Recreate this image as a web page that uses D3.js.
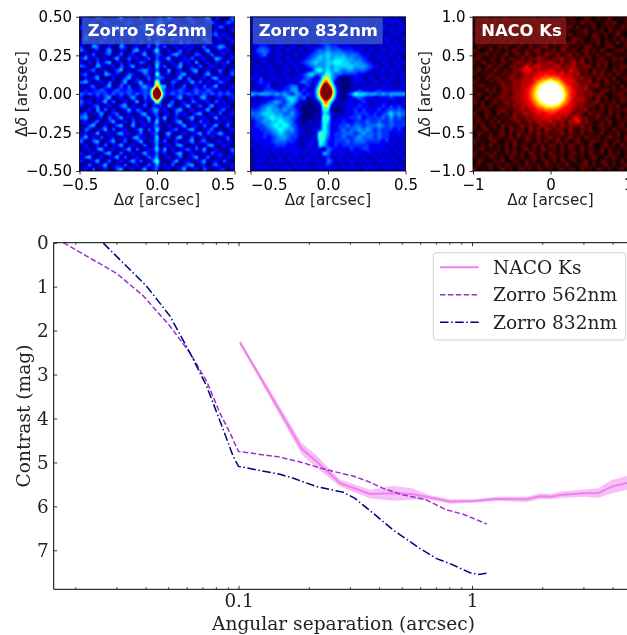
<!DOCTYPE html>
<html><head><meta charset="utf-8">
<script src="https://cdn.jsdelivr.net/npm/d3@7"></script>
<style>
html,body{margin:0;padding:0;background:#fff;overflow:hidden}
#wrap{position:relative;width:627px;height:635px;overflow:hidden}
canvas{position:absolute}
svg{position:absolute;left:0;top:0}
</style></head><body><div id="wrap"></div>
<script>
// ---------- curves ----------
const nacoSep = [0.1015,0.1865,0.2162,0.272,0.366,0.46,0.552,0.661,0.805,1.013,1.276,1.714,1.955,2.19,2.38,3.0,3.47,3.97,4.61];
const nacoMag = [2.27,4.69,4.98,5.47,5.72,5.70,5.72,5.80,5.89,5.88,5.83,5.84,5.77,5.78,5.74,5.70,5.70,5.55,5.47];
const nacoErr = [0.05,0.13,0.14,0.08,0.10,0.17,0.13,0.05,0.05,0.04,0.05,0.06,0.06,0.06,0.07,0.08,0.11,0.15,0.16];
const z562Sep = [0.0178,0.0301,0.0391,0.0509,0.062,0.0731,0.0833,0.092,0.1,0.1506,0.1865,0.2387,0.31,0.354,0.417,0.508,0.629,0.779,0.918,1.156];
const z562Mag = [0,0.70,1.21,1.90,2.51,3.16,3.88,4.33,4.75,4.88,5.0,5.17,5.31,5.42,5.59,5.74,5.84,6.08,6.18,6.40];
const z832Sep = [0.02636,0.0404,0.0509,0.062,0.0731,0.0861,0.095,0.1,0.1506,0.1717,0.2162,0.281,0.3155,0.378,0.46,0.599,0.706,0.819,0.98,1.064,1.163];
const z832Mag = [0.01,0.99,1.67,2.51,3.27,4.26,4.87,5.09,5.27,5.36,5.55,5.68,5.82,6.16,6.54,6.96,7.19,7.32,7.51,7.55,7.52];
const legendLabels = ["NACO Ks","Zorro 562nm","Zorro 832nm"];
const mainXTicks = [0.1,1];
const mainXMinor = [0.02,0.03,0.04,0.05,0.06,0.07,0.08,0.09,0.2,0.3,0.4,0.5,0.6,0.7,0.8,0.9,2,3,4];
const mainYTicks = [0,1,2,3,4,5,6,7];

// ---------- images: coarse brightness grids ----------
const grid562 = [
"120132101240210312023142101320124021013","012301321012310120134201210132012310132","201210123402101321012031024201321013201",
"120210130241202130121310120240210120102","031320121023101202031201032101301231210","142101302120130214022103120210142012021",
"120213012031021302142012041302013201102","201430120142012013031301202120130124310","310120241021034120251020130201024012120",
"021301230130120240132013421013201301201","240120102401312013031240102130120143012","102031340120201320142012031204012021130",
"320142012031240102051301240120301210201","012301201340102342131040120134012013102","230120431201320132062120134012024102013",
"021240102013412013133201240310120341120","341012031024012402071013201241302013210","102301240131301342033402013012031240102",
"121223212322321232331212232123223212121","323232323232323232333223232323232323232","201021340120241031211101240120341012012",
"312012403012014021041013012032012031201","201230120134020130212042012401302401120","012041302012413201341201340120124012301",
"230124012301201340230120312013401203012","341012031240120124031401201240120140210","120230124012031203150201340120312012021",
"013401201340140120231020124012031240130","032012403012012403151012301341012301012","120140120341201301230241012012403124201",
"241203012012034120150120340130120201130","301340124013012401241301201240231012021","120120301240120130140120341012013401210",
"012034012012403012251402012303140120013","201201340130120241131201340120120312102","134012012403012013240120130124013012021",
"201240130120241301361012401201240120310","013012401203012013141203012340120231012","120301201340120240230120124012031012201"];
const grid832 = [
"111211121112112111211212112112121121211","121112111211121121112112121121112112121","112121211121112121112121112112121211112",
"211112111211211112121112112121112112121","112121121112111212211211211211212111211","121112112121121111322112121112112121112",
"112211211112112112332211211211211121211","123321121121112122343322221121112112121","134431211211211234454443332211211211212",
"123421121112112345565555444322112112111","112211211211123456565666554432112121121","111211121121234565566776655543211211212",
"121121112112123455565666665554321121121","112112111212112367565654554443211212111","121121112111235644475443333221112111212",
"213112211212234312664300012211211212112","123221121121343212542000012121121121112","112231112344123111321000011121211212112",
"221333223355231111110000012322123222222","545554545435423111110000247665554545555","211222334665341111110000123432212223222",
"112234543564210000320011221232121221212","223455434542100000540011222322122323232","334565545443100001650001223232223234343",
"445666554453200011652111223333232346454","344567665543100011872122233423333435343","234556676542101112762223223334334334333",
"233456767643111112752233434434445434333","223345676553211123752234344545434333232","222334565443211128752334443454434332222",
"222323455433111228742334334544434332121","122223444332112217632333434443333231212","212222333222112216532323333333222212121",
"121212222222212122143222232233222221212","112121212122121221542122122212212121121","121211121212112121232121212121121212112",
"112112121121212112143121121212112121211","121211212112121121232112121121211212121","112121121211212112121211212112121121112"];
const gridNaco = [
"312402134120321402312041320142031240213","103214023412031240123402130413201324102","241031420213402130421302413021402132043",
"320413102340213041320413012340213041321","132041324120341023140231402130421302410","401230412032140312041320143201340213042",
"213402130421402132304102341302140321403","042130324013204123402134012043120342013","310241302142031340213042130241304102341",
"132403124023142031421302413042130342102","241032140321403243102341320413024103241","304213042134213042342130241402132403120",
"120341320342130453213402130243041302143","241304213043423142342130432130413204231","302142132341232343423241324021324130412",
"130423412432342434343423432413042314023","412031342343432454343432342134130421302","234102143243434565454343423241340213041",
"301423034243445656565443432342102413024","142031243234345667665434342314234102341","320412342343445656565443423432041302143",
"413024134234344555554434323421340213042","204130213243434454443433432313204132401","132401342123423343434323421340213041324",
"401320413042342342343234213204132041302","230413021342132423432413042130241320413","142031402134023142342130413042103240132",
"304123041302413024213041320413024130241","213402130421304130421320410324013204123","042130241304213041302140321403214031402",
"130241320413042130241302413042130241304","412034103240132041302413024103421302413","203140213041320413042130421304102413042",
"134021304130241304213041320413204130213","401324103241304213042130241304213041302","213042130421302413024130421302410324103",
"042103240132041302413042130241304213041","130241304213042130421304102341302413024","402130241302413042130241320413042130241"];
// additive gaussian features: x, y, sigmaX, sigmaY, amplitude
const blobs562 = [[0,0,0.019,0.027,1.7],[0,0.055,0.012,0.018,0.28]];
const blobs832 = [[-0.011,0.011,0.032,0.04,1.7],[-0.011,0.09,0.016,0.03,0.2],[-0.011,-0.07,0.016,0.02,0.25]];
const blobsNaco = [[0,0,0.105,0.095,1.0],[-0.005,0.07,0.06,0.06,0.45],[0.05,-0.04,0.08,0.06,0.3],[0,0,0.15,0.15,0.2],[0,0,0.24,0.24,0.3],[0,0,0.5,0.5,0.05],[-0.30,0.33,0.05,0.05,0.2],[0.345,-0.35,0.04,0.04,0.22],[0.30,0.35,0.07,0.07,0.07]];

const panelTitles = ["Zorro 562nm","Zorro 832nm","NACO Ks"];
const smallTicksA = [-0.5,0,0.5];
const smallTicksY = [-0.5,-0.25,0,0.25,0.5];
const naxTicks = [-1,0,1];
const naxYTicks = [-1,-0.5,0,0.5,1];

const jet = d3.scaleLinear().domain([0,0.11,0.34,0.5,0.65,0.89,1])
  .range(["#00007f","#0000ff","#00ffff","#7fff7f","#ffff00","#ff0000","#7f0000"]).clamp(true);
const hot = d3.scaleLinear().domain([0,0.365,0.746,1])
  .range(["#0a0000","#ff0000","#ffff00","#ffffff"]).clamp(true);

const wrap = d3.select("#wrap");
const svg = wrap.append("svg").attr("width",627).attr("height",635);
const SANS = "'DejaVu Sans'", SERIF = "'DejaVu Serif'";

function paint(x,y,w,h,dom,grid,blobs,gain,cmap){
  const cv = wrap.insert("canvas","svg").attr("width",w).attr("height",h)
    .style("left",x+"px").style("top",y+"px").node();
  const ctx = cv.getContext("2d"), im = ctx.createImageData(w,h);
  const n = grid.length;
  const px2x = d3.scaleLinear().domain([0,w]).range(dom);
  const px2y = d3.scaleLinear().domain([0,h]).range([dom[1],dom[0]]);
  const val=(r,c)=>{const s=grid[Math.max(0,Math.min(n-1,r))];return (+s[Math.max(0,Math.min(s.length-1,c))]||0)*gain;};
  const cub=(p0,p1,p2,p3,t)=>p1+.5*t*(p2-p0+t*(2*p0-5*p1+4*p2-p3+t*(3*(p1-p2)+p3-p0)));
  for(let j=0;j<h;j++)for(let i=0;i<w;i++){
    const u=(i+.5)/w*n-.5,v=(j+.5)/h*n-.5,c0=Math.floor(u),r0=Math.floor(v),a=u-c0,b=v-r0;
    const row=r=>cub(val(r,c0-1),val(r,c0),val(r,c0+1),val(r,c0+2),a);
    let t=Math.max(0,cub(row(r0-1),row(r0),row(r0+1),row(r0+2),b));
    const X=px2x(i+.5),Y=px2y(j+.5);
    for(const [bx,by,sx,sy,amp] of blobs) t+=amp*Math.exp(-.5*((X-bx)**2/sx**2+(Y-by)**2/sy**2));
    const col=d3.rgb(cmap(t)),k=(j*w+i)*4;
    im.data[k]=col.r;im.data[k+1]=col.g;im.data[k+2]=col.b;im.data[k+3]=255;
  }
  ctx.putImageData(im,0,0);
}

function smallAxes(x0,x1,y0,y1,xDom,yDom,xt,yt,xf,yf,title,boxW,boxColor,showY,yLabelX,anchorFix){
  const g = svg.append("g");
  const xs = d3.scaleLinear().domain(xDom).range([x0,x1]);
  const ys = d3.scaleLinear().domain(yDom).range([y1,y0]);
  const xa = g.append("g").attr("transform",`translate(0,${y1})`).call(d3.axisBottom(xs).tickValues(xt).tickSize(3.5).tickPadding(5).tickFormat(xf));
  const ya = g.append("g").attr("transform",`translate(${x0},0)`).call(d3.axisLeft(ys).tickValues(yt).tickSize(3.5).tickPadding(4).tickFormat(showY?yf:""));
  [xa,ya].forEach(a=>{a.selectAll(".domain").remove();a.selectAll("line").attr("stroke","#000").attr("stroke-width",.8);
    a.selectAll("text").attr("fill","#000").style("font-family",SANS).style("font-size","15px");});
  if(anchorFix) xa.selectAll("text").filter(d=>d===anchorFix.v).attr("text-anchor",anchorFix.a);
  g.append("rect").attr("x",x0).attr("y",y0).attr("width",x1-x0).attr("height",y1-y0).attr("fill","none").attr("stroke","#000").attr("stroke-width",.9);
  g.append("rect").attr("x",x0+2.3).attr("y",y0+.8).attr("width",boxW).attr("height",26.6).attr("fill",boxColor).attr("fill-opacity",.72);
  g.append("text").attr("x",x0+8.2).attr("y",y0+19).attr("fill","#fff").style("font-family",SANS).style("font-weight","bold").style("font-size","16.4px").text(title);
  g.append("text").attr("x",(x0+x1)/2).attr("y",y1+34).attr("text-anchor","middle").attr("fill","#222").style("font-family",SANS).style("font-size","15.2px")
    .html('Δ<tspan font-style="italic">α</tspan> [arcsec]');
  if(showY) g.append("text").attr("transform",`translate(${yLabelX},${(y0+y1)/2}) rotate(-90)`).attr("text-anchor","middle").attr("fill","#222").style("font-family",SANS).style("font-size","15.2px")
    .html('Δ<tspan font-style="italic">δ</tspan> [arcsec]');
}
const minus = s=>s.replace("-","\u2212");
const f2 = d=>minus(d3.format(".2f")(d)), f1=d=>minus(d3.format(".1f")(d)), f0=d=>minus(d3.format("d")(d));

paint(80,17,154,154,[-0.5,0.5],grid562,blobs562,0.062,jet);
paint(251,17,154,154,[-0.5,0.5],grid832,blobs832,0.05,jet);
paint(473,17,155,154,[-1,1],gridNaco,blobsNaco,0.032,hot);
smallAxes(79.5,234.5,16.8,171,[-0.5,0.5],[-0.5,0.5],smallTicksA,smallTicksY,f1,f2,panelTitles[0],130,"#3f62c8",true,26.5,{v:0.5,a:"end"});
smallAxes(250.5,405.5,16.8,171,[-0.5,0.5],[-0.5,0.5],smallTicksA,smallTicksY,f1,f2,panelTitles[1],130,"#3f62c8",false,0,{v:-0.5,a:"start"});
smallAxes(473,628,16.8,171,[-1,1],[-1,1],naxTicks,naxYTicks,f0,f1,panelTitles[2],91,"#8e1c1c",true,430,null);

// ---------- main plot ----------
const mLeft=53.7, mRight=640, mTop=242.7, mBottom=589.3;
const x = d3.scaleLog().domain([0.1,1]).range([238.5,472]);
const y = d3.scaleLinear().domain([0,7]).range([mTop,550.3]);
const m = svg.append("g");
const clipId="cl"; svg.append("clipPath").attr("id",clipId).append("rect").attr("x",mLeft).attr("y",mTop).attr("width",mRight-mLeft).attr("height",mBottom-mTop);
const plot = m.append("g").attr("clip-path",`url(#${clipId})`);
const pts=(a,b)=>a.map((d,i)=>[d,b[i]]);
const lineGen=d3.line().x(d=>x(d[0])).y(d=>y(d[1]));
plot.append("path").datum(nacoSep.map((d,i)=>({s:d,m:nacoMag[i],e:nacoErr[i]})))
  .attr("d",d3.area().x(d=>x(d.s)).y0(d=>y(d.m-d.e)).y1(d=>y(d.m+d.e))).attr("fill","#ee82ee").attr("fill-opacity",.5);
plot.append("path").datum(pts(nacoSep,nacoMag)).attr("d",lineGen).attr("fill","none").attr("stroke","#ee82ee").attr("stroke-width",2);
plot.append("path").datum(pts(z562Sep,z562Mag)).attr("d",lineGen).attr("fill","none").attr("stroke","#9932cc").attr("stroke-width",1.5).attr("stroke-dasharray","5.5,2.4");
plot.append("path").datum(pts(z832Sep,z832Mag)).attr("d",lineGen).attr("fill","none").attr("stroke","#000080").attr("stroke-width",1.5).attr("stroke-dasharray","8.5,2.6,1.5,2.6");

function xTicks(yPos,size,labels,vals,orient){
  const a=(orient==="b"?d3.axisBottom:d3.axisTop)(x).tickValues(vals).tickSize(-size).tickPadding(5).tickFormat(labels?(d=>d3.format("~g")(d)):"");
  const g=m.append("g").attr("transform",`translate(0,${yPos})`).call(a);
  g.select(".domain").remove();
  g.selectAll("line").attr("stroke","#000").attr("stroke-width",.8);
  g.selectAll("text").attr("fill","#222").style("font-family",SERIF).style("font-size","18.4px");
  return g;
}
xTicks(mBottom,3.5,true,mainXTicks,"b");
xTicks(mBottom,2,false,mainXMinor,"b");
xTicks(mTop,3.5,false,mainXTicks,"t");
xTicks(mTop,2,false,mainXMinor,"t");
const ya=m.append("g").attr("transform",`translate(${mLeft},0)`).call(d3.axisLeft(y).tickValues(mainYTicks).tickSize(-3.5).tickPadding(5).tickFormat(d3.format("d")));
ya.select(".domain").remove();
ya.selectAll("line").attr("stroke","#000").attr("stroke-width",.8);
ya.selectAll("text").attr("fill","#222").style("font-family",SERIF).style("font-size","18.4px");
m.append("path").attr("d",`M${mRight},${mTop}H${mLeft}V${mBottom}H${mRight}`).attr("fill","none").attr("stroke","#000").attr("stroke-width",1);
m.append("text").attr("transform",`translate(29.5,416) rotate(-90)`).attr("text-anchor","middle").attr("fill","#222").style("font-family",SERIF).style("font-size","18.6px").text("Contrast (mag)");
m.append("text").attr("x",343.5).attr("y",630).attr("text-anchor","middle").attr("fill","#222").style("font-family",SERIF).style("font-size","18.6px").text("Angular separation (arcsec)");

// legend
const lg=m.append("g");
lg.append("rect").attr("x",433.3).attr("y",252.7).attr("width",192.4).attr("height",87.3).attr("rx",3).attr("fill","#fff").attr("fill-opacity",.85).attr("stroke","#ccc").attr("stroke-width",.9);
const sty=[["#ee82ee",2,null],["#9932cc",1.5,"5.5,2.4"],["#000080",1.5,"8.5,2.6,1.5,2.6"]];
legendLabels.forEach((t,i)=>{
  const ly=267.3+i*27.5;
  lg.append("line").attr("x1",440).attr("x2",478.7).attr("y1",ly).attr("y2",ly).attr("stroke",sty[i][0]).attr("stroke-width",sty[i][1]).attr("stroke-dasharray",sty[i][2]);
  lg.append("text").attr("x",493).attr("y",ly+6.6).attr("fill","#222").style("font-family",SERIF).style("font-size","18.6px").text(t);
});
</script></body></html>
